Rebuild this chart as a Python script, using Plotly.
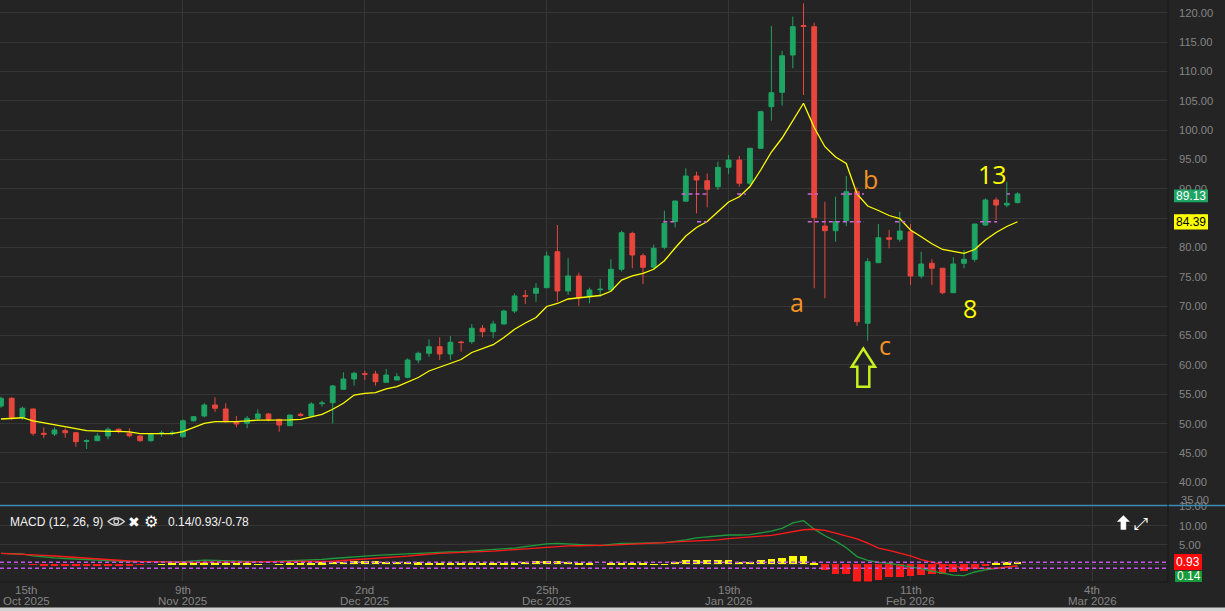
import plotly.graph_objects as go

# ---------------- data ----------------
candle_idx = list(range(96))

opens = [53.0, 54.31, 51.07, 52.49, 48.35, 48.23, 48.79, 48.45, 46.95, 47.09,
         47.89, 49.03, 48.35, 47.89, 47.09, 48.3, 48.35, 47.77, 50.49, 51.29,
         53.17, 52.49, 50.32, 50.05, 50.9, 51.64, 50.73, 49.64, 51.58, 51.29,
         53.4, 53.56, 55.84, 57.6, 58.5, 58.45, 57.03, 57.43, 57.89, 60.84,
         61.98, 63.1, 61.86, 63.9, 63.95, 66.24, 65.66, 66.97, 69.18, 71.8,
         72.2, 73.15, 79.28, 72.6, 75.15, 71.74, 72.8, 72.76, 76.29, 82.41,
         78.6, 76.63, 80.03, 84.4, 87.9, 92.18, 91.38, 90.36, 93.66, 94.9,
         90.94, 96.9, 103.99, 106.44, 112.79, 117.8, 117.61, 83.66, 82.86, 84.57,
         89.51, 67.09, 77.41, 81.67, 81.4, 82.69, 75.15, 77.31, 76.46, 72.3,
         77.31, 77.99, 83.83, 88.09, 87.24, 87.65]
highs = [54.6, 54.48, 52.88, 52.55, 49.37, 49.37, 49.2, 48.5, 47.33, 48.35,
         49.37, 49.2, 49.2, 47.95, 48.35, 48.79, 48.79, 50.73, 51.3, 53.46,
         54.48, 53.46, 51.29, 51.29, 52.44, 51.8, 50.8, 51.5, 51.86, 53.63,
         53.9, 56.58, 58.74, 58.84, 59.0, 59.0, 59.3, 58.6, 61.13, 62.25,
         64.36, 64.7, 64.9, 64.1, 66.97, 66.8, 67.53, 69.38, 72.2, 72.76,
         73.9, 79.28, 83.83, 78.16, 75.7, 73.15, 74.6, 78.0, 82.86, 82.69,
         79.0, 80.5, 86.27, 87.95, 93.49, 92.9, 92.6, 94.62, 95.76, 95.59,
         96.95, 103.3, 117.73, 113.48, 119.32, 121.6, 118.3, 87.8, 88.65, 92.18,
         90.25, 78.16, 84.0, 82.98, 86.1, 84.0, 79.28, 77.99, 76.5, 78.33,
         79.57, 84.0, 88.38, 88.55, 91.21, 89.4]
lows = [52.7, 50.6, 50.6, 47.94, 47.5, 47.89, 47.6, 46.06, 45.67, 47.0,
        47.33, 48.35, 47.65, 46.92, 46.92, 47.77, 48.0, 47.6, 50.3, 51.07,
        52.0, 50.2, 49.37, 49.2, 50.49, 50.4, 48.62, 49.6, 51.2, 51.12,
        52.9, 50.05, 55.8, 56.46, 57.43, 56.46, 57.0, 57.4, 57.72, 60.27,
        61.4, 60.84, 60.84, 62.25, 63.6, 64.7, 64.53, 66.9, 68.8, 70.37,
        70.77, 73.1, 70.77, 71.91, 70.03, 70.5, 71.62, 72.7, 75.9, 76.46,
        73.78, 76.2, 79.7, 83.4, 87.8, 85.83, 86.85, 89.8, 92.5, 90.36,
        90.6, 96.8, 101.6, 104.16, 110.53, 105.98, 73.05, 71.35, 80.99, 83.66,
        66.63, 64.12, 77.4, 79.86, 80.99, 73.61, 74.75, 73.61, 72.03, 72.3,
        76.46, 77.58, 83.66, 84.68, 86.85, 87.5]
closes = [54.3, 51.07, 52.61, 48.35, 48.18, 48.91, 48.45, 46.92, 47.1, 47.89,
          49.03, 48.62, 47.94, 47.09, 48.18, 48.4, 48.4, 50.49, 51.17, 53.17,
          52.61, 50.32, 49.93, 50.9, 51.64, 50.73, 49.76, 51.46, 51.41, 53.34,
          53.5, 56.41, 57.6, 58.57, 58.4, 57.14, 58.28, 57.99, 60.84, 61.98,
          63.1, 61.86, 63.85, 63.8, 66.24, 65.66, 66.97, 69.18, 71.74, 71.7,
          73.05, 78.55, 72.6, 75.15, 71.52, 72.76, 72.9, 76.29, 82.52, 78.72,
          76.63, 79.86, 84.12, 87.92, 92.18, 91.5, 89.92, 93.66, 94.9, 90.94,
          96.9, 103.13, 106.37, 112.67, 117.61, 117.65, 85.08, 82.86, 84.4, 89.51,
          67.36, 77.58, 81.67, 81.4, 82.81, 75.15, 77.19, 76.46, 72.3, 77.19,
          77.99, 84.0, 88.09, 87.24, 87.53, 89.13]

moving_avg = [50.78, 50.9, 51.0, 50.45, 50.15, 49.85, 49.55, 49.15, 48.79, 48.7,
              48.69, 48.66, 48.6, 48.28, 48.28, 48.28, 48.28, 48.62, 49.4, 50.05,
              50.32, 50.32, 50.35, 50.45, 50.6, 50.6, 50.6, 50.65, 50.73, 51.2,
              51.58, 52.44, 53.46, 54.87, 55.16, 55.26, 55.9, 56.3, 57.1, 57.85,
              58.96, 59.59, 60.27, 60.92, 62.11, 62.79, 63.44, 64.67, 66.07, 67.14,
              68.08, 69.95, 70.46, 71.23, 71.4, 71.57, 71.82, 72.54, 74.46, 75.15,
              75.61, 76.29, 77.75, 79.91, 81.96, 83.41, 84.43, 86.1, 87.75, 88.65,
              90.39, 93.2, 96.27, 98.65, 101.72, 104.57, 100.44, 97.17, 95.42, 94.31,
              89.11, 87.07, 86.3, 85.45, 84.94, 82.98, 81.82, 80.63, 79.66, 79.28,
              79.01, 79.66, 81.28, 82.56, 83.58, 84.39]

macd_line = [2.85, 2.76, 2.67, 2.2, 1.88, 1.67, 1.5, 1.35, 1.23, 1.09,
             0.93, 0.77, 0.67, 0.67, 0.67, 0.67, 0.67, 0.67, 0.9, 1.08,
             1.0, 0.88, 0.82, 0.75, 0.7, 0.67, 0.75, 0.82, 0.9, 1.0,
             1.25, 1.5, 1.75, 1.95, 2.1, 2.3, 2.45, 2.58, 2.75, 2.93,
             3.1, 3.16, 3.21, 3.27, 3.42, 3.6, 3.74, 3.96, 4.2, 4.6,
             5.0, 5.3, 5.4, 5.3, 5.1, 4.95, 4.82, 5.15, 5.44, 5.44,
             5.44, 5.44, 5.6, 5.95, 6.3, 6.85, 7.15, 7.4, 7.59, 7.59,
             7.7, 8.15, 8.6, 9.3, 10.7, 11.3, 9.1, 7.4, 6.0, 4.3,
             2.0, 1.0, 0.5, 0.22, -0.2, -0.6, -1.15, -1.75, -2.3, -2.8,
             -2.95, -2.0, -1.45, -1.1, -0.75, -0.4]
signal_line = [2.85, 2.76, 2.67, 2.5, 2.32, 2.15, 1.95, 1.8, 1.6, 1.38,
               1.13, 0.98, 0.85, 0.73, 0.65, 0.6, 0.56, 0.52, 0.52, 0.55,
               0.6, 0.65, 0.67, 0.67, 0.67, 0.67, 0.67, 0.67, 0.67, 0.67,
               0.67, 0.78, 0.98, 1.15, 1.3, 1.5, 1.7, 1.85, 2.1, 2.4,
               2.7, 2.85, 2.95, 3.02, 3.1, 3.25, 3.4, 3.6, 3.8, 3.95,
               4.15, 4.35, 4.6, 4.75, 4.8, 4.82, 4.82, 4.95, 5.1, 5.2,
               5.3, 5.45, 5.6, 5.8, 5.9, 6.0, 6.07, 6.3, 6.65, 6.85,
               7.0, 7.17, 7.5, 7.95, 8.5, 8.95, 9.07, 8.8, 8.1, 7.4,
               6.6, 5.5, 4.2, 3.6, 2.95, 2.2, 1.2, 0.6, -0.1, -0.5,
               -0.92, -1.04, -1.04, -1.04, -0.7, -0.44]
macd_hist = [0.0, 0.0, 0.0, -0.1, -0.4, -0.5, -0.5, -0.5, -0.45, -0.4,
             -0.3, -0.25, -0.2, -0.1, 0.0, 0.05, 0.1, 0.15, 0.3, 0.45,
             0.35, 0.2, 0.15, 0.1, 0.05, 0.0, 0.05, 0.1, 0.2, 0.3,
             0.5, 0.6, 0.7, 0.75, 0.75, 0.75, 0.7, 0.7, 0.65, 0.5,
             0.4, 0.3, 0.25, 0.25, 0.3, 0.35, 0.35, 0.35, 0.4, 0.6,
             0.85, 0.9, 0.8, 0.55, 0.3, 0.15, 0.0, 0.2, 0.35, 0.25,
             0.15, 0.05, 0.05, 0.67, 1.1, 1.1, 1.1, 1.1, 1.1, 0.67,
             0.67, 1.1, 1.3, 1.7, 2.2, 2.2, 0.1, -1.4, -2.5, -2.5,
             -4.6, -4.6, -4.1, -3.2, -3.2, -3.0, -2.8, -2.5, -2.5, -1.9,
             -1.7, -1.0, -0.3, 0.3, 0.5, 0.6]

tick_idx = [0, 17, 34, 51, 68, 85, 102]
tick_day = ["15th", "9th", "2nd", "25th", "19th", "11th", "4th"]
tick_month = ["Oct 2025", "Nov 2025", "Dec 2025", "Dec 2025", "Jan 2026", "Feb 2026", "Mar 2026"]
price_ticks = [40, 45, 50, 55, 60, 65, 70, 75, 80, 85, 90, 95, 100, 105, 110, 115, 120]
macd_ticks = [0, 5, 10, 15]

last_price = 89.13
last_ma = 84.39
macd_last_text = "0.14/0.93/-0.78"
signal_last = "0.93"
macd_last = "0.14"
macd_mark_levels = [0.52, -1.04]
price_mark_segments = {last_price: [(63.6, 65.95), (68.8, 69.6), (75.4, 76.35), (78.5, 80.65), (94.0, 94.3)],
                       last_ma: [(61.9, 62.9), (65.05, 65.98), (75.4, 80.65), (83.55, 84.5), (91.5, 93.1)]}
wave_labels = [("a", 74.36, 70.72, "orange"), ("b", 81.24, 91.67, "orange"), ("c", 82.59, 63.39, "orange"),
               ("13", 92.62, 92.49, "yellow"), ("8", 90.59, 69.73, "yellow")]
arrow_tip = (80.59, 62.79)

# ---------------- styling ----------------
W, H = 1225, 611
PLOT_W, PLOT_H = 1168, 582
BG = "#242424"
GRID = "#363636"
GREEN = "#1ea463"
RED = "#e8463c"
AXIS_TXT = "#858585"
ORANGE = "#f39325"
YELLOW = "#ffff00"
FONT = "Liberation Sans, Arial, sans-serif"
PX_PER_IDX = 10.7
PX_PER_PRICE = 5.87


def px(xp):
    return xp / PLOT_W


def py(yp):
    return (PLOT_H - yp) / PLOT_H


fig = go.Figure()

fig.add_trace(go.Candlestick(
    x=candle_idx, open=opens, high=highs, low=lows, close=closes,
    increasing=dict(line=dict(color=GREEN, width=1), fillcolor=GREEN),
    decreasing=dict(line=dict(color=RED, width=1), fillcolor=RED),
    whiskerwidth=0, xaxis="x", yaxis="y", hoverinfo="skip", showlegend=False))
fig.add_trace(go.Scatter(x=candle_idx, y=moving_avg, mode="lines",
                         line=dict(color=YELLOW, width=1.3), xaxis="x", yaxis="y",
                         hoverinfo="skip"))

hist_colors = [YELLOW if v >= 0 else "#ff1a1a" for v in macd_hist]
fig.add_trace(go.Bar(x=candle_idx, y=macd_hist, width=0.72,
                     marker=dict(color=hist_colors, line=dict(width=0)),
                     xaxis="x2", yaxis="y2", hoverinfo="skip"))
fig.add_trace(go.Scatter(x=candle_idx, y=macd_line, mode="lines",
                         line=dict(color="#1e9c3c", width=1.3), xaxis="x2", yaxis="y2",
                         hoverinfo="skip"))
fig.add_trace(go.Scatter(x=candle_idx, y=signal_line, mode="lines",
                         line=dict(color="#ff1a1a", width=1.3), xaxis="x2", yaxis="y2",
                         hoverinfo="skip"))

x_range = [-1 / PX_PER_IDX, (PLOT_W - 1) / PX_PER_IDX]
price_range = [120 - (505 - 12.7) / PX_PER_PRICE, 120 + 12.7 / PX_PER_PRICE]
macd_range = [-4.59, 15.1]

shapes = []
# magenta dashed markers in price pane
for level, segs in price_mark_segments.items():
    for a, b in segs:
        shapes.append(dict(type="line", xref="x", yref="y", x0=a, x1=b, y0=level, y1=level,
                           line=dict(color="#cc66dd", width=1.5, dash="4px,3px"), layer="above"))
# macd pane dashed levels
for lv in macd_mark_levels:
    shapes.append(dict(type="line", xref="x2 domain", yref="y2", x0=0, x1=1, y0=lv, y1=lv,
                       line=dict(color="#c455e6", width=1.5, dash="4px,3px"), layer="above"))

# hollow arrow under "c"
ax, ay = arrow_tip
arrow_px = [(0, 0), (11.7, 18.2), (6, 18.2), (6, 38.2), (-6, 38.2), (-6, 18.2), (-11.6, 18.2)]
pts = [(ax + dx / PX_PER_IDX, ay - dy / PX_PER_PRICE) for dx, dy in arrow_px]
path = "M " + " L ".join(f"{x:.4f},{y:.4f}" for x, y in pts) + " Z"
shapes.append(dict(type="path", xref="x", yref="y", path=path,
                   line=dict(color="#c5ef1f", width=2.5), fillcolor="rgba(0,0,0,0)", layer="above"))

# separator between panes
shapes.append(dict(type="line", xref="paper", yref="paper", x0=0, x1=W / PLOT_W,
                   y0=py(505.5), y1=py(505.5), line=dict(color="#3b8bb5", width=1.6), layer="above"))
# right border of panes
shapes.append(dict(type="line", xref="paper", yref="paper", x0=px(1168), x1=px(1168),
                   y0=py(0), y1=py(582), line=dict(color="#171717", width=1), layer="above"))
shapes.append(dict(type="line", xref="paper", yref="paper", x0=0, x1=px(1168),
                   y0=py(582), y1=py(582), line=dict(color="#171717", width=1), layer="above"))
# light strip at the bottom
shapes.append(dict(type="rect", xref="paper", yref="paper", x0=0, x1=W / PLOT_W,
                   y0=py(611.5), y1=py(607.5), fillcolor="#d2d2d2", line=dict(width=0), layer="above"))

# value boxes on the right axis
boxes = [(1174, 1208, 189.5, 202.3, GREEN, "white", f"{last_price:.2f}"),
         (1174, 1208, 214.3, 229.5, YELLOW, "black", f"{last_ma:.2f}"),
         (1174, 1202, 554.0, 570.0, "#ff0a0a", "white", signal_last),
         (1175, 1202, 570.7, 582.0, "#169c3a", "white", macd_last)]
annotations = []
for x0, x1, y0, y1, col, tcol, txt in boxes:
    shapes.append(dict(type="rect", xref="paper", yref="paper", x0=px(x0), x1=px(x1),
                       y0=py(y1), y1=py(y0), fillcolor=col, line=dict(width=0), layer="above"))
    annotations.append(dict(xref="paper", yref="paper", x=px((x0 + x1) / 2), y=py((y0 + y1) / 2),
                            text=txt, showarrow=False, xanchor="center", yanchor="middle",
                            font=dict(family=FONT, size=12, color=tcol)))

# eye icon
ex, ey = 116.2, 521.5
eye = [(ex - 8.2, ey), (ex, ey - 7.5), (ex + 8.2, ey), (ex, ey + 7.5)]
eye_path = (f"M {px(eye[0][0])},{py(eye[0][1])} Q {px(eye[1][0])},{py(eye[1][1])} {px(eye[2][0])},{py(eye[2][1])} "
            f"Q {px(eye[3][0])},{py(eye[3][1])} {px(eye[0][0])},{py(eye[0][1])} Z")
shapes.append(dict(type="path", xref="paper", yref="paper", path=eye_path,
                   line=dict(color="#d0d0d0", width=1.2), fillcolor="rgba(0,0,0,0)", layer="above"))
shapes.append(dict(type="circle", xref="paper", yref="paper", x0=px(ex - 2.4), x1=px(ex + 2.4),
                   y0=py(ey + 2.4), y1=py(ey - 2.4), line=dict(color="#d0d0d0", width=1.2),
                   fillcolor="rgba(0,0,0,0)", layer="above"))

# up-arrow icon (filled) at top right of the MACD pane
ux, uy = 1123.4, 522.5
up_px = [(0, -7), (6, -1), (2.5, -1), (2.5, 7), (-2.5, 7), (-2.5, -1), (-6, -1)]
up_path = "M " + " L ".join(f"{px(ux + dx):.5f},{py(uy + dy):.5f}" for dx, dy in up_px) + " Z"
shapes.append(dict(type="path", xref="paper", yref="paper", path=up_path,
                   line=dict(color="#ffffff", width=0.5), fillcolor="#ffffff", layer="above"))

# wave labels
for txt, xi, yp, col in wave_labels:
    annotations.append(dict(xref="x", yref="y", x=xi, y=yp, text=txt, showarrow=False,
                            xanchor="center", yanchor="middle",
                            font=dict(family="Open Sans, sans-serif", size=25,
                                      color=ORANGE if col == "orange" else YELLOW)))

# MACD header
annotations.append(dict(xref="paper", yref="paper", x=px(8.4), y=py(521.7), text="MACD (12, 26, 9)",
                        showarrow=False, xanchor="left", yanchor="middle",
                        font=dict(family=FONT, size=12, color="#f2f2f2")))
annotations.append(dict(xref="paper", yref="paper", x=px(134.3), y=py(521.7), text="✖",
                        showarrow=False, xanchor="center", yanchor="middle",
                        font=dict(family="DejaVu Sans", size=14, color="#ffffff")))
annotations.append(dict(xref="paper", yref="paper", x=px(151.4), y=py(521.7), text="⚙",
                        showarrow=False, xanchor="center", yanchor="middle",
                        font=dict(family="DejaVu Sans", size=16, color="#ffffff")))
annotations.append(dict(xref="paper", yref="paper", x=px(166), y=py(521.7), text=macd_last_text,
                        showarrow=False, xanchor="left", yanchor="middle",
                        font=dict(family=FONT, size=12, color="#f2f2f2")))
annotations.append(dict(xref="paper", yref="paper", x=px(1140.5), y=py(522.5), text="⤢",
                        showarrow=False, xanchor="center", yanchor="middle",
                        font=dict(family="DejaVu Sans", size=17, color="#ffffff")))

# stray price label at the bottom of the price axis
annotations.append(dict(xref="paper", yref="paper", x=px(1178.5), y=py(500), text="35.00",
                        showarrow=False, xanchor="left", yanchor="middle",
                        font=dict(family=FONT, size=11.2, color=AXIS_TXT)))

# date labels (two lines) below the MACD pane
half_label = 24 / PX_PER_IDX
for ti, d, m in zip(tick_idx, tick_day, tick_month):
    xc = max(ti, x_range[0] + half_label + 2 / PX_PER_IDX)
    annotations.append(dict(xref="x2", yref="paper", x=xc, y=py(590), text=d, showarrow=False,
                            xanchor="center", yanchor="middle",
                            font=dict(family=FONT, size=11.5, color=AXIS_TXT)))
    annotations.append(dict(xref="x2", yref="paper", x=xc, y=py(601), text=m, showarrow=False,
                            xanchor="center", yanchor="middle",
                            font=dict(family=FONT, size=11.5, color=AXIS_TXT)))

axis_font = dict(family=FONT, size=11.2, color=AXIS_TXT)
fig.update_layout(
    template="none",
    width=W, height=H,
    margin=dict(l=0, r=W - PLOT_W, t=0, b=H - PLOT_H),
    paper_bgcolor=BG, plot_bgcolor=BG,
    showlegend=False, bargap=0, boxgap=0.36,
    xaxis=dict(domain=[0, 1], anchor="y", range=x_range, tickvals=tick_idx, showticklabels=False,
               showgrid=True, gridcolor=GRID, gridwidth=1, zeroline=False, showline=False, ticks="",
               rangeslider=dict(visible=False)),
    yaxis=dict(domain=[py(505), 1], anchor="x", side="right", range=price_range, tickvals=price_ticks,
               tickformat=".2f", showgrid=True, gridcolor=GRID, zeroline=False, showline=False,
               ticks="", ticklabelstandoff=10, tickfont=axis_font),
    xaxis2=dict(domain=[0, 1], anchor="y2", range=x_range, matches="x", tickvals=tick_idx,
                showticklabels=False, showgrid=True, gridcolor=GRID, zeroline=False, showline=False,
                ticks=""),
    yaxis2=dict(domain=[0, py(506)], anchor="x2", side="right", range=macd_range, tickvals=macd_ticks,
                tickformat=".2f", showgrid=True, gridcolor=GRID, zeroline=False, showline=False,
                ticks="", ticklabelstandoff=10, tickfont=axis_font),
    shapes=shapes,
    annotations=annotations,
)

fig.write_html("out.html", config={"displayModeBar": False},
               post_script="document.body.style.margin='0';document.body.style.overflow='hidden';")
